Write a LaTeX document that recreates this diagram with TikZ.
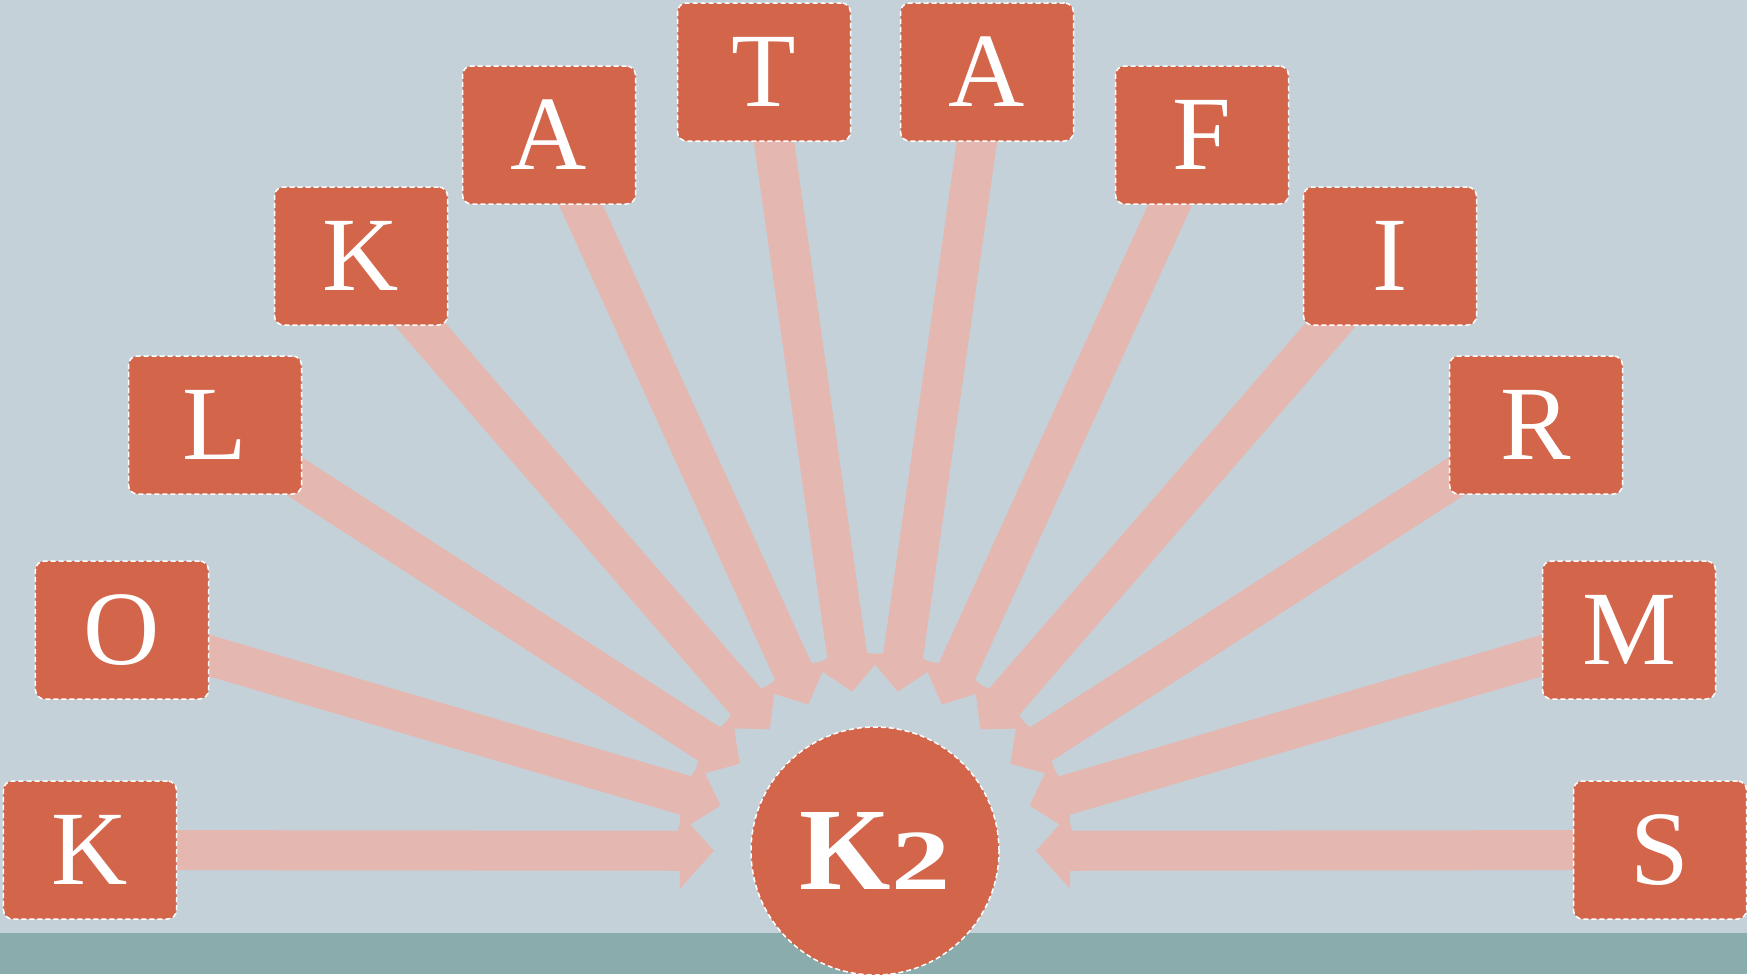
\documentclass[tikz,border=0pt]{standalone}
\usepackage{fontspec}
\usepackage{graphicx}
\setmainfont{Liberation Serif}
\usetikzlibrary{arrows.meta}
\definecolor{bgc}{HTML}{C5D1D8}
\definecolor{stripc}{HTML}{8BACAD}
\definecolor{boxc}{HTML}{D2654A}
\definecolor{arrc}{HTML}{E5B7B1}
\pgfdeclarelayer{back}
\pgfsetlayers{back,main}
\tikzset{
  letterbox/.style={draw=white, fill=boxc, dash pattern=on 5bp off 3bp, line width=1.5bp,
    rounded corners=9bp, minimum width=173bp, minimum height=138bp, outer sep=0pt,
    inner sep=0pt, text=white, font=\fontsize{106}{106}\selectfont},
  hub/.style={draw=white, fill=boxc, dash pattern=on 5bp off 3bp, line width=1.5bp,
    circle, minimum size=248bp, outer sep=0pt, inner sep=0pt, text=white},
  ray/.style={draw=arrc, line width=40bp, -{Triangle[length=34bp 0 0, width=74bp 0 0]}, shorten >=161bp}
}
\begin{document}
\begin{tikzpicture}[x=1bp,y=-1bp]
\useasboundingbox (0,0) rectangle (1747,974);
\node[hub] (c) at (875,851) {\fontsize{118}{118}\selectfont\bfseries K\fontsize{86}{86}\selectfont\scalebox{1.38}[1]{2}};
\node[letterbox] (b1) at (90,850) {K};
\node[letterbox] (b2) at (122,630) {O};
\node[letterbox] (b3) at (215,425) {L};
\node[letterbox] (b4) at (361,256) {K};
\node[letterbox] (b5) at (549,135) {A};
\node[letterbox] (b6) at (764,72) {T};
\node[letterbox] (b7) at (987,72) {A};
\node[letterbox] (b8) at (1202,135) {F};
\node[letterbox] (b9) at (1390,256) {I};
\node[letterbox] (b10) at (1536,425) {R};
\node[letterbox] (b11) at (1629,630) {M};
\node[letterbox] (b12) at (1660,850) {S};
\begin{pgfonlayer}{back}
\fill[bgc] (0,0) rectangle (1747,974);
\fill[stripc] (0,933) rectangle (1747,974);
\foreach \i in {1,...,12} { \draw[ray] (b\i.center) -- (c.center); }
\end{pgfonlayer}
\end{tikzpicture}
\end{document}
